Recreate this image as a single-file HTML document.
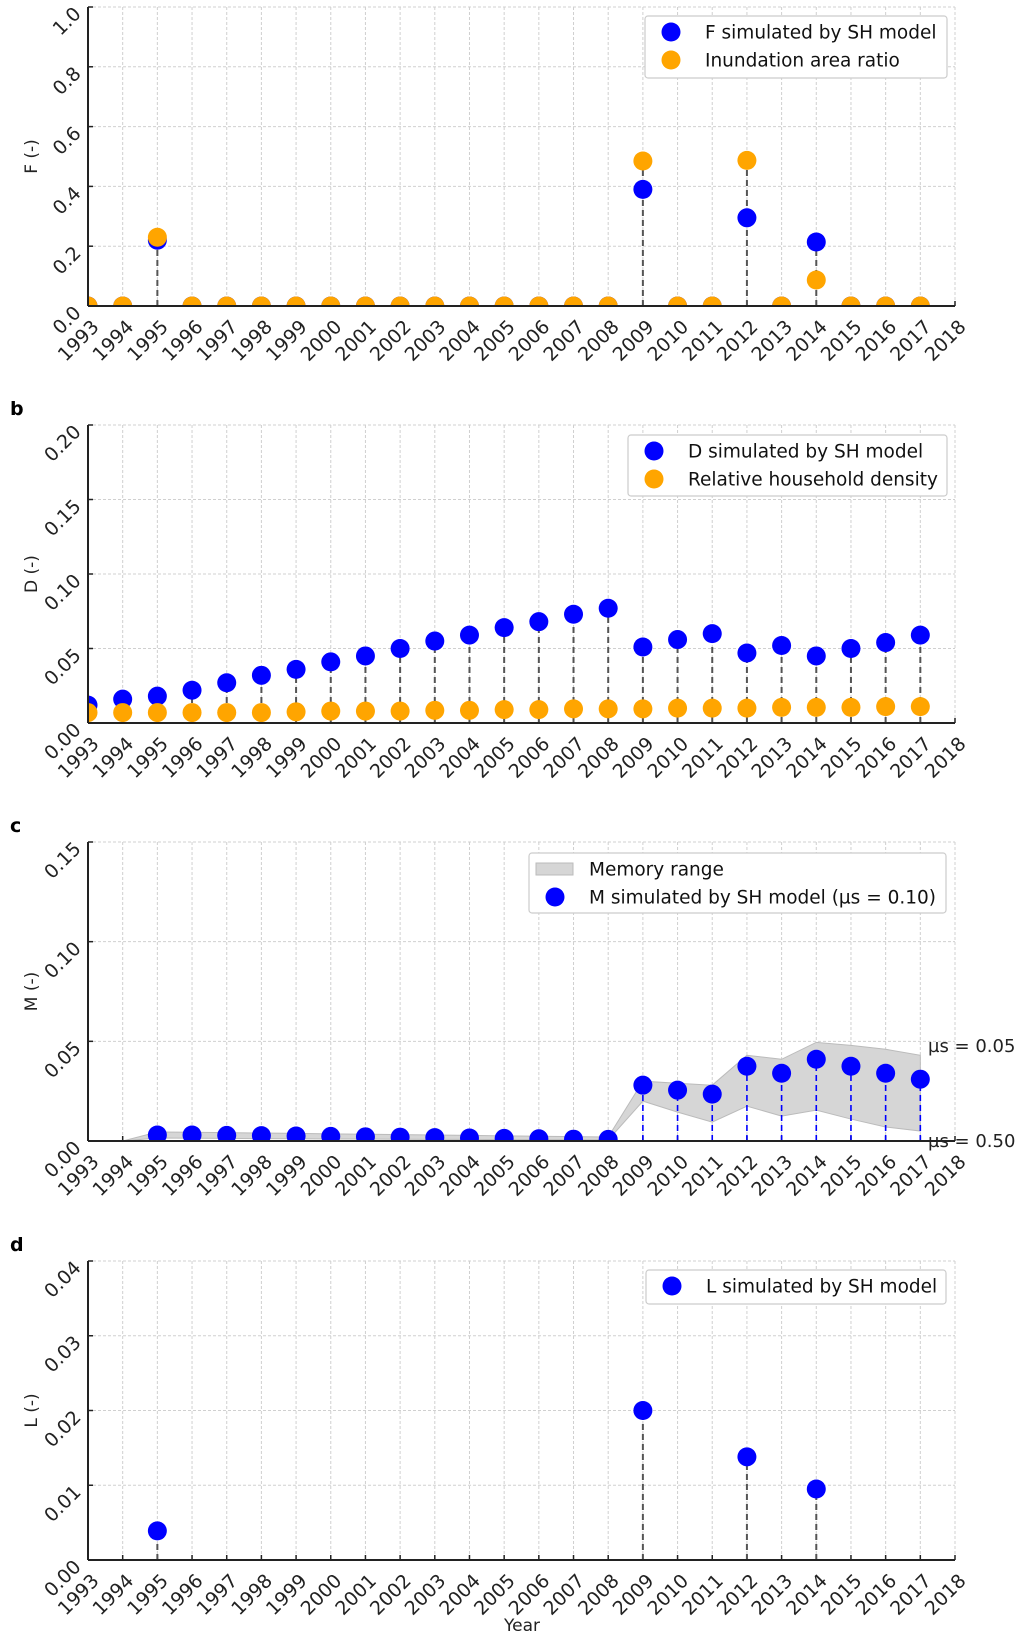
<!DOCTYPE html>
<html><head><meta charset="utf-8"><style>
body{margin:0;background:#fff}
svg{display:block;font-family:"DejaVu Sans","Liberation Sans",sans-serif}
</style></head><body>
<svg id="fig" width="1021" height="1637" viewBox="0 0 1021 1637" xmlns="http://www.w3.org/2000/svg"></svg>
<script>
const years = [1993,1994,1995,1996,1997,1998,1999,2000,2001,2002,2003,2004,2005,2006,2007,2008,2009,2010,2011,2012,2013,2014,2015,2016,2017];
const xTicks = [1993,1994,1995,1996,1997,1998,1999,2000,2001,2002,2003,2004,2005,2006,2007,2008,2009,2010,2011,2012,2013,2014,2015,2016,2017,2018];
// Panel a
const fSim = [0,0,0.22,0,0,0,0,0,0,0,0,0,0,0,0,0,0.39,0,0,0.295,0,0.214,0,0,0];
const fObs = [0,0,0.23,0,0,0,0,0,0,0,0,0,0,0,0,0,0.485,0,0,0.487,0,0.087,0,0,0];
const aTicks = ["0.0","0.2","0.4","0.6","0.8","1.0"];
// Panel b
const dSim = [0.012,0.016,0.018,0.022,0.027,0.032,0.036,0.041,0.045,0.050,0.055,0.059,0.064,0.068,0.073,0.077,0.051,0.056,0.060,0.047,0.052,0.045,0.050,0.054,0.059];
const dObs = [0.007,0.007,0.007,0.007,0.007,0.007,0.0075,0.008,0.008,0.008,0.0085,0.0085,0.009,0.009,0.0095,0.0095,0.0095,0.010,0.010,0.010,0.0105,0.0105,0.0105,0.011,0.011];
const bTicks = ["0.00","0.05","0.10","0.15","0.20"];
// Panel c
const mSim = [null,null,0.003,0.003,0.0028,0.0027,0.0025,0.0023,0.0021,0.0019,0.0017,0.0015,0.0013,0.0011,0.0009,0.0008,0.028,0.0255,0.0235,0.0375,0.034,0.041,0.0375,0.034,0.031];
const mUpper = [null,0,0.0045,0.0044,0.0042,0.004,0.0038,0.0036,0.0034,0.0032,0.003,0.0028,0.0026,0.0024,0.0022,0.002,0.030,0.029,0.028,0.043,0.041,0.0495,0.048,0.046,0.043];
const mLower = [null,0,0.0015,0.0014,0.0013,0.0012,0.0011,0.001,0.001,0.0009,0.0008,0.0008,0.0007,0.0006,0.0006,0.0005,0.020,0.0145,0.0095,0.0175,0.0125,0.0155,0.011,0.007,0.005];
const cTicks = ["0.00","0.05","0.10","0.15"];
// Panel d
const lSim = [0,0,0.0039,0,0,0,0,0,0,0,0,0,0,0,0,0,0.020,0,0,0.0138,0,0.0095,0,0,0];
const dTicks = ["0.00","0.01","0.02","0.03","0.04"];

const NS="http://www.w3.org/2000/svg";
const svg=document.getElementById('fig');
function mk(tag,attrs,parent){const e=document.createElementNS(NS,tag);for(const k in attrs)e.setAttribute(k,attrs[k]);(parent||svg).appendChild(e);return e;}
const X0=88,X1=955;
const xs=y=>X0+(y-1993)*(X1-X0)/25;

function panel(id,top,bottom,ymax,ticks,letter,ylabel){
  const g=mk('g',{});
  
  
  const ys=v=>bottom-(v/ymax)*(bottom-top);
  const cp=mk('clipPath',{id:'clip'+id},g);
  mk('rect',{x:X0,y:top,width:X1-X0,height:bottom-top},cp);
  const grid=mk('g',{stroke:'#d0d0d0','stroke-width':1,'stroke-dasharray':'3,2'},g);
  
  
  xTicks.forEach(t=>mk('line',{x1:xs(t),x2:xs(t),y1:top,y2:bottom},grid));
  ticks.forEach(t=>{const v=parseFloat(t);mk('line',{x1:X0,x2:X1,y1:ys(v),y2:ys(v)},grid);});
  const lt=mk('text',{x:10,y:top-10,'font-size':19,'font-weight':'bold',fill:'#000'},g);
  lt.textContent=letter;
  
  
  const yl=mk('text',{x:0,y:0,'font-size':17,'text-anchor':'middle',fill:'#222',transform:`translate(37,${(top+bottom)/2}) rotate(-90)`},g);
  yl.textContent=ylabel;
  
  
  ticks.forEach(t=>{const v=parseFloat(t);const y=ys(v);
    const tx=mk('text',{x:0,y:0,'font-size':19,'text-anchor':'end',fill:'#222',transform:`translate(82,${y+8}) rotate(-45)`},g);
    tx.textContent=t;
    
    
    mk('line',{x1:X0,x2:X0+5,y1:y,y2:y,stroke:'#222','stroke-width':1.5},g);
  });
  xTicks.forEach(t=>{const x=xs(t);
    const tx=mk('text',{x:0,y:0,'font-size':19,'text-anchor':'end',fill:'#222',transform:`translate(${x+12},${bottom+22}) rotate(-45)`},g);
    tx.textContent=String(t);
    
    
    mk('line',{x1:x,x2:x,y1:bottom,y2:bottom-5,stroke:'#222','stroke-width':1.5},g);
  });
  return {g,ys,clip:'url(#clip'+id+')'};
}
function spines(g,top,bottom){
  mk('line',{x1:X0,x2:X0,y1:top,y2:bottom,stroke:'#222','stroke-width':2},g);
  mk('line',{x1:X0,x2:X1,y1:bottom,y2:bottom,stroke:'#222','stroke-width':2},g);
}
function stem(g,clip,x,y0,y1,color,w){
  const l=mk('line',{x1:x,x2:x,y1:y0,y2:y1,stroke:color,'stroke-width':w||2,'stroke-dasharray':'6,4','clip-path':clip},g);
  
  
}
function dot(g,clip,x,y,color,name){
  const c=mk('circle',{cx:x,cy:y,r:9.5,fill:color,'clip-path':clip},g);
  
  
}
function legend(x,y,w,h,items){
  const g=mk('g',{});
  
  
  mk('rect',{x:x,y:y,width:w,height:h,rx:3,fill:'#fff',stroke:'#ccc','stroke-width':1.2},g);
  items.forEach((it,i)=>{const cy=y+16+i*28;
    if(it.patch){mk('rect',{x:x+7,y:cy-6,width:37,height:12,fill:'#d6d6d6',stroke:'#bbb'},g);}
    else mk('circle',{cx:x+26,cy:cy,r:9.5,fill:it.color},g);
    const t=mk('text',{x:x+60,y:cy+6.5,'font-size':18.5,fill:'#111'},g);
    t.textContent=it.label;
    
    
  });
}
const BLUE='#0000ff',ORANGE='#ffa500',GRAY='#555';

{const T=7,B=306;const p=panel('a',T,B,1.0,aTicks,'a','F (-)');
 years.forEach((y,i)=>{const m=Math.max(fSim[i],fObs[i]);if(m>0)stem(p.g,p.clip,xs(y),B,p.ys(m),GRAY);});
 years.forEach((y,i)=>dot(p.g,p.clip,xs(y),p.ys(fSim[i]),BLUE,'f-simulated-point'));
 years.forEach((y,i)=>{if(Math.abs(fObs[i]-fSim[i])>0.001||fObs[i]===0)dot(p.g,p.clip,xs(y),p.ys(fObs[i]),ORANGE,'inundation-ratio-point');});
 spines(p.g,T,B);
 legend(645,16,302,62,[{color:BLUE,label:'F simulated by SH model'},{color:ORANGE,label:'Inundation area ratio'}]);}
{const T=425,B=723;const p=panel('b',T,B,0.2,bTicks,'b','D (-)');
 years.forEach((y,i)=>stem(p.g,p.clip,xs(y),B,p.ys(dSim[i]),GRAY));
 years.forEach((y,i)=>dot(p.g,p.clip,xs(y),p.ys(dSim[i]),BLUE,'d-simulated-point'));
 years.forEach((y,i)=>dot(p.g,p.clip,xs(y),p.ys(dObs[i]),ORANGE,'household-density-point'));
 spines(p.g,T,B);
 legend(628,435,319,61,[{color:BLUE,label:'D simulated by SH model'},{color:ORANGE,label:'Relative household density'}]);}
{const T=842,B=1141;const p=panel('c',T,B,0.15,cTicks,'c','M (-)');
 let up=[],lo=[];years.forEach((y,i)=>{if(mUpper[i]!==null){up.push(xs(y)+','+p.ys(mUpper[i]));lo.unshift(xs(y)+','+p.ys(mLower[i]));}});
 const band=mk('polygon',{points:up.concat(lo).join(' '),fill:'#d6d6d6',stroke:'#bbb','stroke-width':1,'clip-path':p.clip},p.g);
 
 
 years.forEach((y,i)=>{if(mSim[i]!==null&&mSim[i]>0.01)stem(p.g,p.clip,xs(y),B,p.ys(mSim[i]),BLUE,1.6);});
 years.forEach((y,i)=>{if(mSim[i]!==null)dot(p.g,p.clip,xs(y),p.ys(mSim[i]),BLUE,'m-simulated-point');});
 spines(p.g,T,B);
 const a1=mk('text',{x:928,y:1052,'font-size':18,fill:'#222'},p.g);a1.textContent='µs = 0.05';
 
 const a2=mk('text',{x:928,y:1147,'font-size':18,fill:'#222'},p.g);a2.textContent='µs = 0.50';
 
 legend(529,853,417,60,[{patch:true,label:'Memory range'},{color:BLUE,label:'M simulated by SH model (µs = 0.10)'}]);}
{const T=1261,B=1560;const p=panel('d',T,B,0.04,dTicks,'d','L (-)');
 years.forEach((y,i)=>{if(lSim[i]>0)stem(p.g,p.clip,xs(y),B,p.ys(lSim[i]),GRAY);});
 years.forEach((y,i)=>{if(lSim[i]>0)dot(p.g,p.clip,xs(y),p.ys(lSim[i]),BLUE,'l-simulated-point');});
 spines(p.g,T,B);
 legend(646,1270,300,34,[{color:BLUE,label:'L simulated by SH model'}]);
 const xt=mk('text',{x:522,y:1631,'font-size':17,'text-anchor':'middle',fill:'#222'});xt.textContent='Year';
 }
</script>
</body></html>
